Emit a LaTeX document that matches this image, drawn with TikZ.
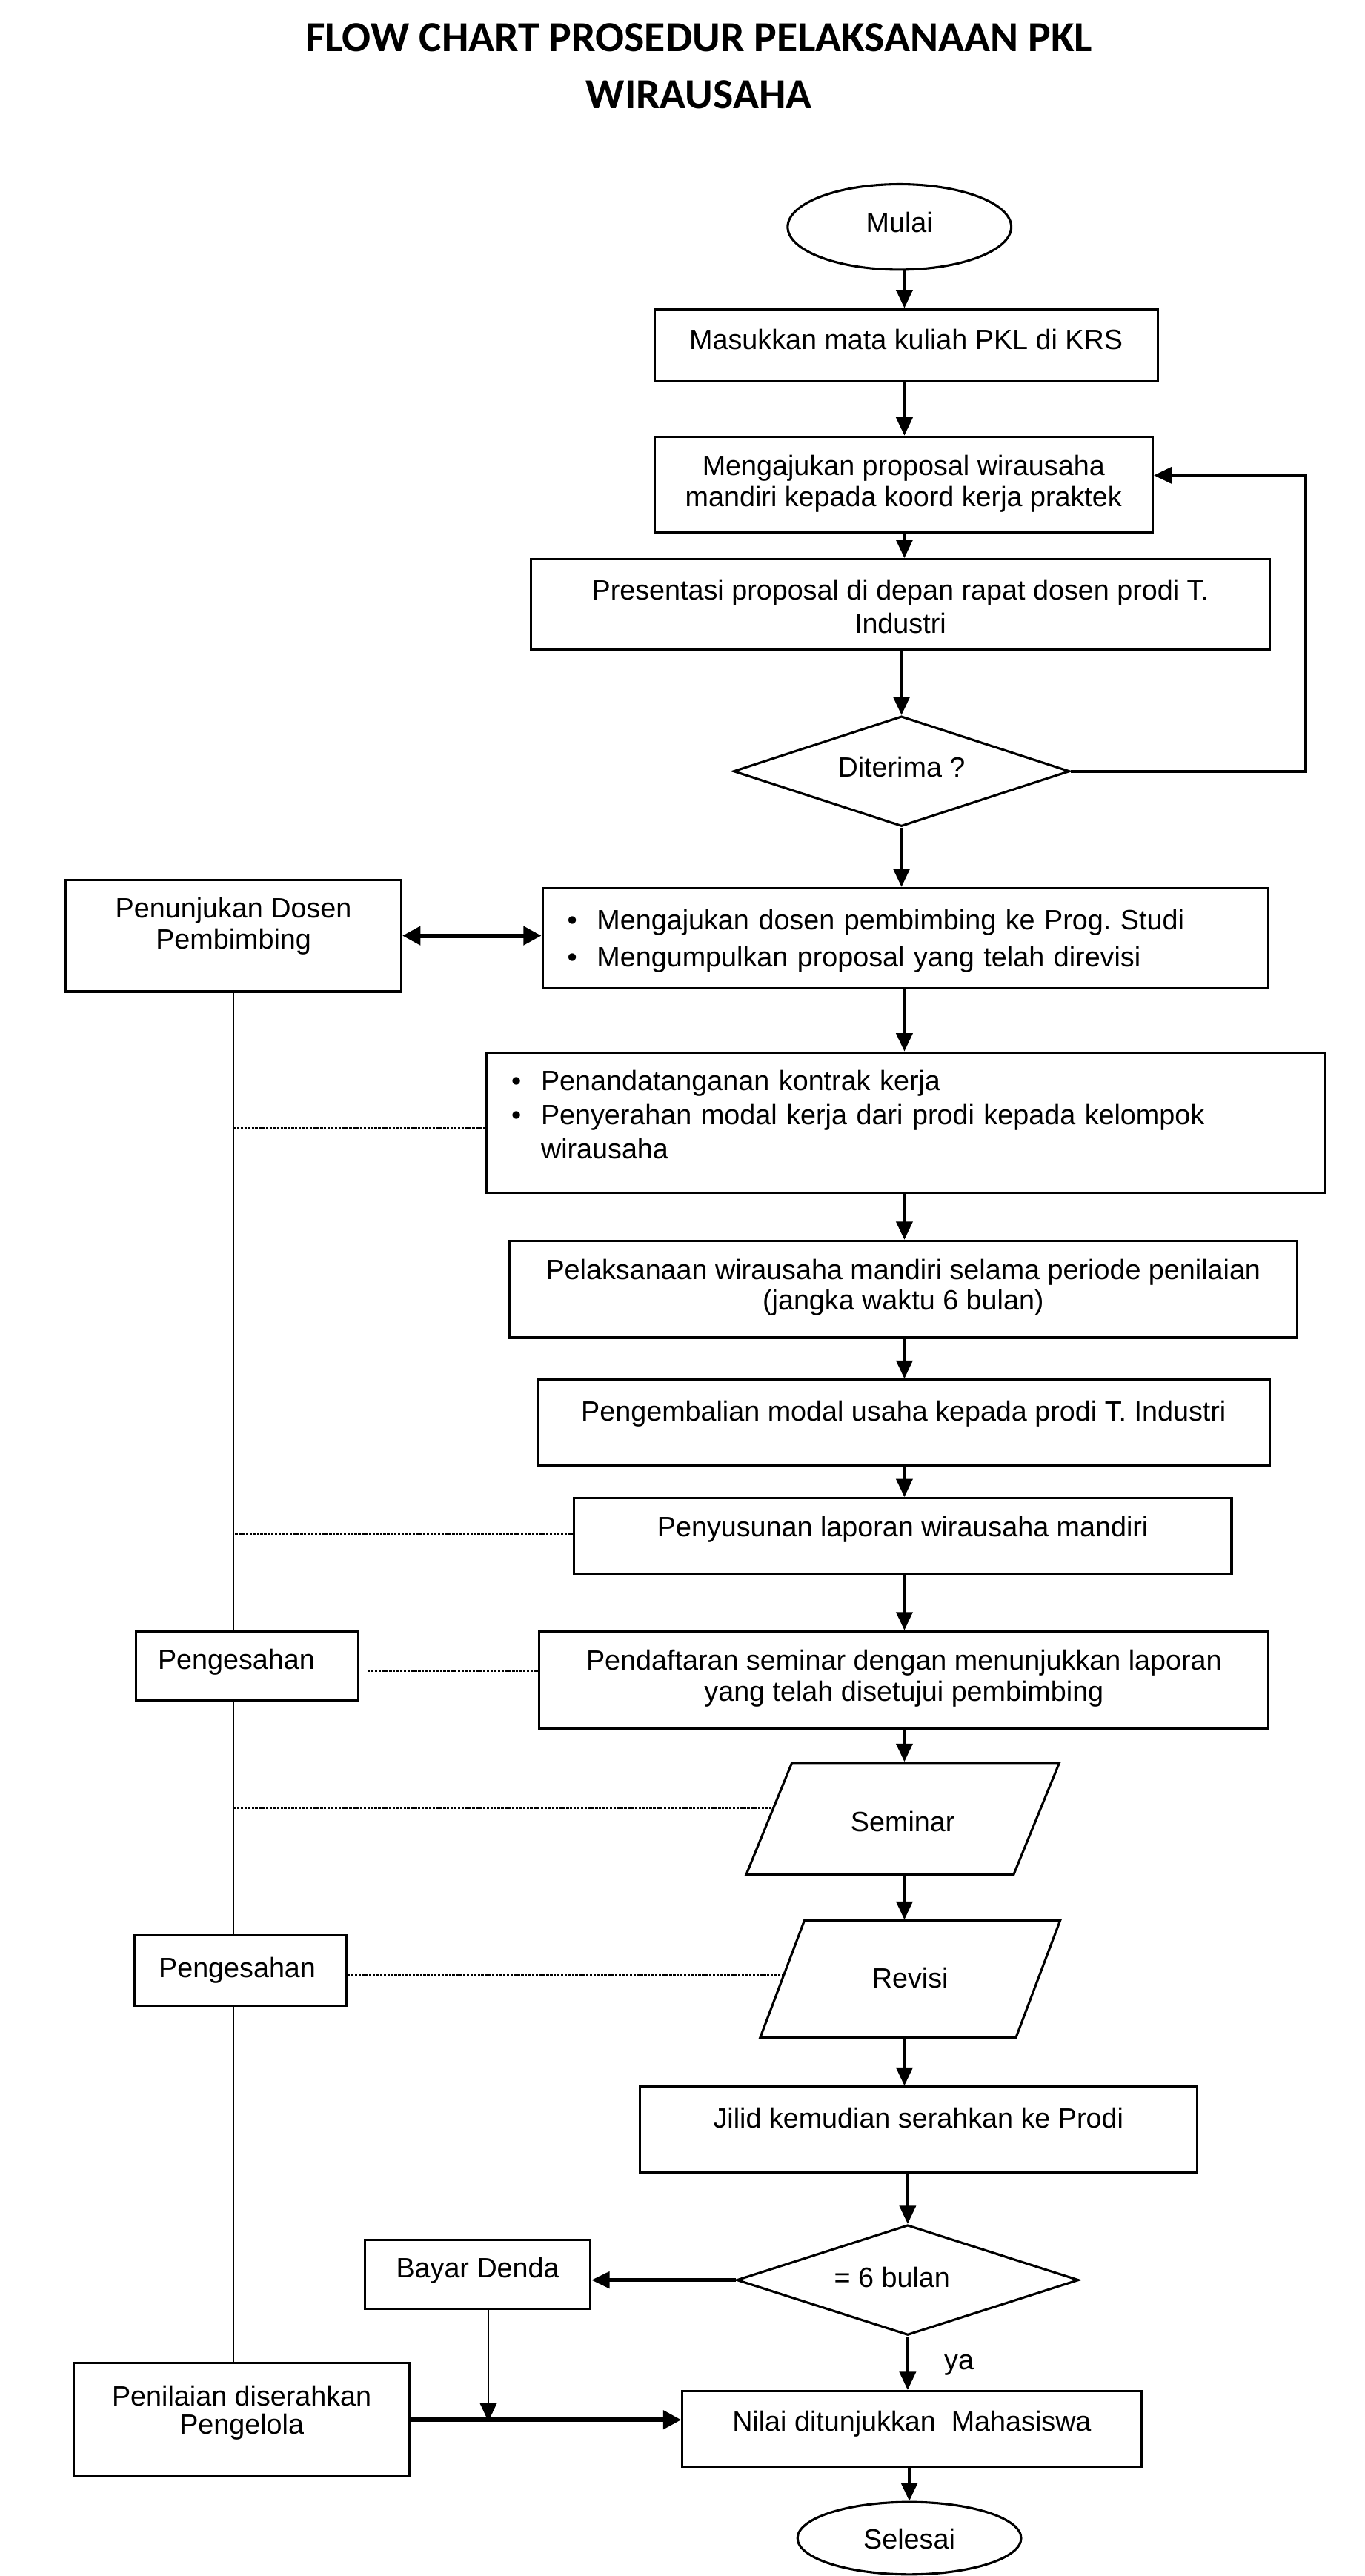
\documentclass[tikz,border=0pt]{standalone}
\usepackage{fontspec}
\setmainfont{Liberation Sans}
\newfontfamily\titlefont{Carlito}
\usetikzlibrary{shapes.geometric,arrows.meta,calc}
\newcommand\mybul{\makebox[18pt][l]{\textbullet}}
\frenchspacing
\begin{document}
\begin{tikzpicture}[x=1pt,y=-1pt,
  every node/.style={inner sep=0pt, font=\fontsize{17}{19.5}\selectfont},
  tb/.style 2 args={text height=#1pt, text depth=#2pt},
  box/.style={draw, rectangle, line width=1.4pt},
  term/.style={draw, ellipse, line width=1.4pt},
  dec/.style={draw, diamond, aspect=3, line width=1.4pt},
  para/.style={draw, trapezium, trapezium stretches=true, line width=1.4pt},
  arr/.style={-{Triangle[length=11pt,width=10pt]}, line width=1.5pt},
  dbl/.style={{Triangle[length=11pt,width=11pt]}-{Triangle[length=11pt,width=11pt]}, line width=2.8pt},
  thk/.style={-{Triangle[length=11pt,width=11pt]}, line width=2.8pt},
  spineln/.style={line width=1pt},
  dot/.style={line width=1.5pt, dash pattern=on 1.5pt off 0.7pt}
]
\useasboundingbox (0,0) rectangle (830.1,1566.5);

\node[anchor=base, font=\titlefont\bfseries\fontsize{26}{30}\selectfont] (t1) at (425,31.5) {FLOW CHART PROSEDUR PELAKSANAAN PKL};
\node[anchor=base, font=\titlefont\bfseries\fontsize{26}{30}\selectfont] (t2) at (425,66) {WIRAUSAHA};

\coordinate (col) at (550,0);
\coordinate (loopx) at (794,0);
\coordinate (spine) at (142,0);

\node[term, minimum width=136pt, minimum height=52pt, tb={10.8}{4}] (mulai) at (547,138) {Mulai};
\node[box, minimum width=306pt, minimum height=44pt, tb={8.6}{4}] (b1) at (551,210) {Masukkan mata kuliah PKL di KRS};
\node[box, align=center, minimum width=303pt, minimum height=58.5pt, tb={30.5}{4}, font=\fontsize{17}{19}\selectfont] (b2) at (549.5,294.75) {Mengajukan proposal wirausaha\\mandiri kepada koord kerja praktek};
\node[box, align=center, minimum width=449pt, minimum height=55pt, tb={39}{4}, font=\fontsize{17}{20}\selectfont] (b3) at (547.5,367.5) {Presentasi proposal di depan rapat dosen prodi T.\\Industri};
\node[dec, minimum width=204.5pt, minimum height=67pt, tb={10.8}{4}] (d1) at (548.25,469) {Diterima ?};
\node[box, align=center, minimum width=204pt, minimum height=68pt, tb={20}{4}, font=\fontsize{17}{19}\selectfont] (pen) at (142,569) {Penunjukan Dosen\\Pembimbing};
\node[box, align=left, text width=411.5pt, minimum width=441.5pt, minimum height=61pt, tb={17}{27}, font=\fontsize{17}{22.5}\selectfont] (b4) at (550.75,570.5) {\mybul Mengajukan dosen pembimbing ke Prog. Studi\\\mybul Mengumpulkan proposal yang telah direvisi};
\node[box, align=left, text width=480pt, minimum width=510pt, minimum height=85.5pt, tb={8.5}{48}, font=\fontsize{17}{20.75}\selectfont] (b5) at (551,682.75) {\mybul Penandatanganan kontrak kerja\\\mybul Penyerahan modal kerja dari prodi kepada kelompok\\\hspace*{18pt}wirausaha};
\node[box, align=center, minimum width=479.4pt, minimum height=58.9pt, tb={29}{4}, font=\fontsize{17}{18.5}\selectfont] (b6) at (549.3,784) {Pelaksanaan wirausaha mandiri selama periode penilaian\\(jangka waktu 6 bulan)};
\node[box, minimum width=445pt, minimum height=52pt, tb={4}{6}] (b7) at (549.5,865) {Pengembalian modal usaha kepada prodi T. Industri};
\node[box, minimum width=400pt, minimum height=46pt, tb={5}{4}] (b8) at (549,934) {Penyusunan laporan wirausaha mandiri};
\node[box, align=left, text width=108.5pt, minimum width=135.5pt, minimum height=42pt, tb={8}{4}] (pg1) at (150.25,1013) {Pengesahan};
\node[box, align=center, minimum width=443.5pt, minimum height=59pt, tb={30}{4}, font=\fontsize{17}{19}\selectfont] (b9) at (549.75,1021.5) {Pendaftaran seminar dengan menunjukkan laporan\\yang telah disetujui pembimbing};
\node[para, trapezium left angle=61.45, trapezium right angle=118.55, minimum width=192pt, minimum height=68pt, tb={20}{4}] (sem) at (549,1106) {Seminar};
\node[para, trapezium left angle=63.1, trapezium right angle=116.9, minimum width=183pt, minimum height=71pt, tb={15}{4}] (rev) at (553.5,1203.5) {Revisi};
\node[box, align=left, text width=99.6pt, minimum width=128.6pt, minimum height=42.5pt, tb={12.5}{4}] (pg2) at (146.3,1198.25) {Pengesahan};
\node[box, minimum width=339pt, minimum height=52pt, tb={4}{6}] (jilid) at (558.5,1295) {Jilid kemudian serahkan ke Prodi};
\node[dec, minimum width=208pt, minimum height=67pt, tb={13}{4}] (d2) at (552,1386.5) {= 6 bulan\hspace*{19pt}};
\node[box, minimum width=137pt, minimum height=42pt, tb={8}{4}] (bayar) at (290.5,1383) {Bayar Denda};
\node[box, align=center, minimum width=204pt, minimum height=69pt, tb={21}{4}, font=\fontsize{17}{17}\selectfont] (penil) at (147,1471.5) {Penilaian diserahkan\\Pengelola};
\node[box, minimum width=279pt, minimum height=46pt, tb={7}{4}] (nilai) at (554.5,1477) {Nilai ditunjukkan~~Mahasiswa};
\node[term, minimum width=136pt, minimum height=44pt, tb={17}{4}] (selesai) at (553,1543.5) {Selesai};
\node[anchor=base west] (ya) at (574,1441) {ya};

% main flow
\draw[arr] (mulai.south -| col) -- (b1.north -| col);
\draw[arr] (b1.south -| col) -- (b2.north -| col);
\draw[arr] (b2.south -| col) -- (b3.north -| col);
\draw[arr] (b3.south -| d1.north) -- (d1.north);
\draw[arr] (d1.south) -- (d1.south |- b4.north);
\draw[arr] (b4.south -| col) -- (b5.north -| col);
\draw[arr] (b5.south -| col) -- (b6.north -| col);
\draw[arr] (b6.south -| col) -- (b7.north -| col);
\draw[arr] (b7.south -| col) -- (b8.north -| col);
\draw[arr] (b8.south -| col) -- (b9.north -| col);
\draw[arr] (b9.south -| col) -- (sem.north -| col);
\draw[arr] (sem.south -| col) -- (rev.north -| col);
\draw[arr] (rev.south -| col) -- (jilid.north -| col);
\draw[arr] (jilid.south -| d2.north) -- (d2.north);
\draw[arr] (d2.south) -- (d2.south |- nilai.north);
\draw[arr] (nilai.south -| selesai.north) -- (selesai.north);

% loop back
\coordinate (b2ar) at ($(b2.east)+(0,-5.7)$);
\draw[arr, line width=1.8pt] (d1.east) -- (d1.east -| loopx) -- (b2ar -| loopx) -- (b2ar);

% left side
\draw[dbl] (pen.east) -- (pen.east -| b4.west);
\draw[spineln] (pen.south -| spine) -- (pg1.north -| spine);
\draw[spineln] (pg1.south -| spine) -- (pg2.north -| spine);
\draw[spineln] (pg2.south -| spine) -- (penil.north -| spine);

% dotted links
\coordinate (s1) at (142,686);
\draw[dot] (s1) -- (s1 -| b5.west);
\coordinate (s2) at (143,932.5);
\draw[dot] (s2) -- (s2 -| b8.west);
\coordinate (s3) at (223.5,1016);
\draw[dot] (s3) -- (s3 -| b9.west);
\path (sem.top left corner) -- (sem.bottom left corner) coordinate[pos=0.404] (sem4);
\draw[dot] (sem4 -| spine) -- (sem4);
\path (rev.top left corner) -- (rev.bottom left corner) coordinate[pos=0.465] (rev5);
\draw[dot] (rev5 -| pg2.east) -- (rev5);

% bottom part
\draw[arr, line width=2pt] (d2.west) -- (d2.west -| bayar.east);
\coordinate (jn) at (297,1472.5);
\draw[arr, line width=1.3pt] (bayar.south -| jn) -- (jn);
\draw[thk] (penil.east) -- (penil.east -| nilai.west);
\end{tikzpicture}
\end{document}
